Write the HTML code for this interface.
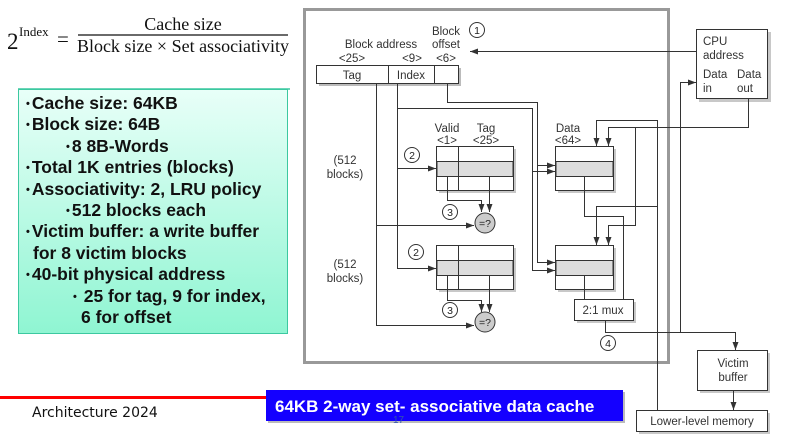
<!DOCTYPE html>
<html><head><meta charset="utf-8"><style>
html,body{margin:0;padding:0;background:#fff;}
body{width:785px;height:438px;overflow:hidden;position:relative;}
svg{position:absolute;left:0;top:0;}
.box{position:absolute;left:18px;top:89px;width:270px;height:245px;border:1px solid #3cc8a0;background:linear-gradient(#e8fff8,#8ff5d2);box-sizing:border-box;font-family:"Liberation Sans",sans-serif;font-weight:bold;font-size:17.5px;line-height:21.4px;color:#111;padding:3px 0 0 7px;}
.box div{white-space:nowrap;height:21.4px;}
.b{font-size:11px;line-height:0;position:relative;top:-2px;margin-right:2px;}
</style></head><body>
<div class="box">
<div><span class="b">•</span>Cache size: 64KB</div>
<div><span class="b">•</span>Block size: 64B</div>
<div style="padding-left:40px"><span class="b">•</span>8 8B-Words</div>
<div><span class="b">•</span>Total 1K entries (blocks)</div>
<div><span class="b">•</span>Associativity: 2, LRU policy</div>
<div style="padding-left:40px"><span class="b">•</span>512 blocks each</div>
<div><span class="b">•</span>Victim buffer: a write buffer</div>
<div style="padding-left:7px">for 8 victim blocks</div>
<div><span class="b">•</span>40-bit physical address</div>
<div style="padding-left:47px"><span class="b">•</span> 25 for tag, 9 for index,</div>
<div style="padding-left:55px">6 for offset</div>
</div>
<svg width="785" height="438" viewBox="0 0 785 438" font-family="Liberation Sans, sans-serif">
<defs>
<marker id="a" markerWidth="8" markerHeight="6" refX="8" refY="3" orient="auto" markerUnits="userSpaceOnUse"><path d="M0,0 L8,3 L0,6z" fill="#333"/></marker>
</defs>
<g font-family="Liberation Serif, serif" fill="#111">
<text x="7" y="49" font-size="23">2</text>
<text x="19" y="36" font-size="13">Index</text>
<text x="57" y="46" font-size="21">=</text>
<line x1="78" y1="35" x2="288" y2="35" stroke="#111" stroke-width="1.2"/>
<text x="183" y="30" font-size="18" text-anchor="middle">Cache size</text>
<text x="183" y="52" font-size="18" text-anchor="middle">Block size × Set associativity</text>
</g>
<line x1="18" y1="89" x2="290" y2="89" stroke="#3cc8a0" stroke-width="1.5"/>
<rect x="304.5" y="9.5" width="364" height="353" fill="none" stroke="#999" stroke-width="3"/>
<g stroke="#333" stroke-width="1" fill="none">
<rect x="319" y="68" width="142" height="18" fill="#bbb" stroke="none"/>
<rect x="316.5" y="65.5" width="142" height="18" fill="#fff"/>
<line x1="388.5" y1="65" x2="388.5" y2="84"/>
<line x1="434.5" y1="65" x2="434.5" y2="84"/>
<line x1="696" y1="51.5" x2="470" y2="51.5" marker-end="url(#a)"/>
<polyline points="376.5,84 376.5,225.5 474,225.5" marker-end="url(#a)"/>
<polyline points="376.5,225 376.5,325.5 474,325.5" marker-end="url(#a)"/>
<polyline points="397.5,84 397.5,268.5 436,268.5" marker-end="url(#a)"/>
<polyline points="397.5,168.5 436,168.5" marker-end="url(#a)"/>
<polyline points="397.5,108.5 532.5,108.5 532.5,270.5 555,270.5" marker-end="url(#a)"/>
<polyline points="532.5,171.5 555,171.5" marker-end="url(#a)"/>
<polyline points="447.5,84 447.5,102.5 537.5,102.5 537.5,262.5 555,262.5" marker-end="url(#a)"/>
<polyline points="537.5,165.5 555,165.5" marker-end="url(#a)"/>
</g>
<g stroke="#333" stroke-width="1">
<rect x="439" y="149" width="77" height="44" fill="#c8c8c8" stroke="none"/>
<rect x="436.5" y="146.5" width="77" height="44" fill="#fff"/>
<rect x="437" y="161.5" width="76" height="15" fill="#ddd"/>
<line x1="436.5" y1="161.5" x2="513.5" y2="161.5"/><line x1="436.5" y1="176.5" x2="513.5" y2="176.5"/>
<line x1="458.5" y1="146.5" x2="458.5" y2="190.5"/>
<rect x="439" y="248" width="77" height="44" fill="#c8c8c8" stroke="none"/>
<rect x="436.5" y="245.5" width="77" height="44" fill="#fff"/>
<rect x="437" y="260.5" width="76" height="15" fill="#ddd"/>
<line x1="436.5" y1="260.5" x2="513.5" y2="260.5"/><line x1="436.5" y1="275.5" x2="513.5" y2="275.5"/>
<line x1="458.5" y1="245.5" x2="458.5" y2="289.5"/>
<rect x="558" y="149" width="58" height="44" fill="#c8c8c8" stroke="none"/>
<rect x="555.5" y="146.5" width="58" height="44" fill="#fff"/>
<rect x="556" y="161.5" width="57" height="15" fill="#ddd"/>
<line x1="555.5" y1="161.5" x2="613.5" y2="161.5"/><line x1="555.5" y1="176.5" x2="613.5" y2="176.5"/>
<rect x="558" y="248" width="58" height="44" fill="#c8c8c8" stroke="none"/>
<rect x="555.5" y="245.5" width="58" height="44" fill="#fff"/>
<rect x="556" y="260.5" width="57" height="15" fill="#ddd"/>
<line x1="555.5" y1="260.5" x2="613.5" y2="260.5"/><line x1="555.5" y1="275.5" x2="613.5" y2="275.5"/>
<rect x="577" y="302" width="59" height="21" fill="#c8c8c8" stroke="none"/>
<rect x="574.5" y="299.5" width="59" height="21" fill="#fff"/>
<rect x="699" y="32" width="72" height="70" fill="#c8c8c8" stroke="none"/>
<rect x="696.5" y="29.5" width="71" height="69" fill="#fff"/>
<rect x="700" y="353" width="70" height="40" fill="#c8c8c8" stroke="none"/>
<rect x="697.5" y="350.5" width="70" height="40" fill="#fff"/>
<rect x="639" y="413" width="131" height="21" fill="#c8c8c8" stroke="none"/>
<rect x="636.5" y="410.5" width="131" height="21" fill="#fff"/>
</g>
<g stroke="#333" stroke-width="1" fill="none">
<polyline points="447.5,176 447.5,200.5 481.5,200.5 481.5,212" marker-end="url(#a)"/>
<polyline points="489.5,176 489.5,212" marker-end="url(#a)"/>
<polyline points="447.5,275 447.5,300.5 481.5,300.5 481.5,312" marker-end="url(#a)"/>
<polyline points="489.5,275 489.5,312" marker-end="url(#a)"/>
<polyline points="584.5,176 584.5,216.5 623.5,216.5 623.5,299"/>
<polyline points="584.5,275 584.5,299"/>
<polyline points="605.5,320 605.5,332.5 735.5,332.5 735.5,350" marker-end="url(#a)"/>
<polyline points="680.5,332.5 680.5,82.5 696,82.5" marker-end="url(#a)"/>
<line x1="733.5" y1="390" x2="733.5" y2="410" marker-end="url(#a)"/>
<polyline points="657.5,410 657.5,120.5 596.5,120.5 596.5,146" marker-end="url(#a)"/>
<polyline points="657.5,206.5 596.5,206.5 596.5,245" marker-end="url(#a)"/>
<polyline points="748.5,99 748.5,127.5 608.5,127.5 608.5,146" marker-end="url(#a)"/>
<polyline points="635.5,127.5 635.5,225.5 608.5,225.5 608.5,245" marker-end="url(#a)"/>
</g>
<g stroke="#333" fill="#ccc"><circle cx="485" cy="223" r="10"/><circle cx="485" cy="322" r="10"/></g>
<g stroke="#333" fill="#fff"><circle cx="477" cy="30" r="7.5"/><circle cx="412" cy="155" r="7.5"/><circle cx="450" cy="212" r="7.5"/><circle cx="416" cy="252" r="7.5"/><circle cx="450" cy="310" r="7.5"/><circle cx="608" cy="343" r="7.5"/></g>
<g font-size="10.5" fill="#222" text-anchor="middle">
<text x="477" y="34">1</text><text x="412" y="159">2</text><text x="450" y="216">3</text><text x="416" y="256">2</text><text x="450" y="314">3</text><text x="608" y="347">4</text>
<text x="485" y="227">=?</text><text x="485" y="326">=?</text>
</g>
<g font-size="11.5" fill="#333" text-anchor="middle">
<text x="381" y="48">Block address</text>
<text x="352" y="62">&lt;25&gt;</text><text x="412" y="62">&lt;9&gt;</text><text x="446" y="62">&lt;6&gt;</text>
<text x="446" y="35">Block</text><text x="446" y="48">offset</text>
<text x="352" y="79">Tag</text><text x="411" y="79">Index</text>
<text x="447" y="132">Valid</text><text x="447" y="144">&lt;1&gt;</text>
<text x="486" y="132">Tag</text><text x="486" y="144">&lt;25&gt;</text>
<text x="568" y="132">Data</text><text x="568" y="144">&lt;64&gt;</text>
<text x="345" y="164">(512</text><text x="345" y="178">blocks)</text>
<text x="345" y="268">(512</text><text x="345" y="282">blocks)</text>
<text x="603" y="314">2:1 mux</text>
<text x="733" y="367">Victim</text><text x="733" y="381">buffer</text>
<text x="702" y="425">Lower-level memory</text>
</g>
<g font-size="11.5" fill="#333">
<text x="703" y="45">CPU</text><text x="703" y="59">address</text>
<text x="703" y="78">Data</text><text x="703" y="92">in</text>
<text x="737" y="78">Data</text><text x="737" y="92">out</text>
</g>
<line x1="0" y1="397.5" x2="266" y2="397.5" stroke="#f00" stroke-width="3"/>
<rect x="268" y="392" width="357" height="31" fill="#bbb"/>
<rect x="266" y="390" width="357" height="31" fill="#1400ff"/>
<text x="275" y="412" font-size="17" font-weight="bold" fill="#fff">64KB 2-way set- associative data cache</text>
<text x="393" y="423" font-size="10" fill="#35a">17</text>
<text x="32" y="417" font-size="14" fill="#111" font-family="DejaVu Sans, sans-serif">Architecture 2024</text>
</svg>
</body></html>
